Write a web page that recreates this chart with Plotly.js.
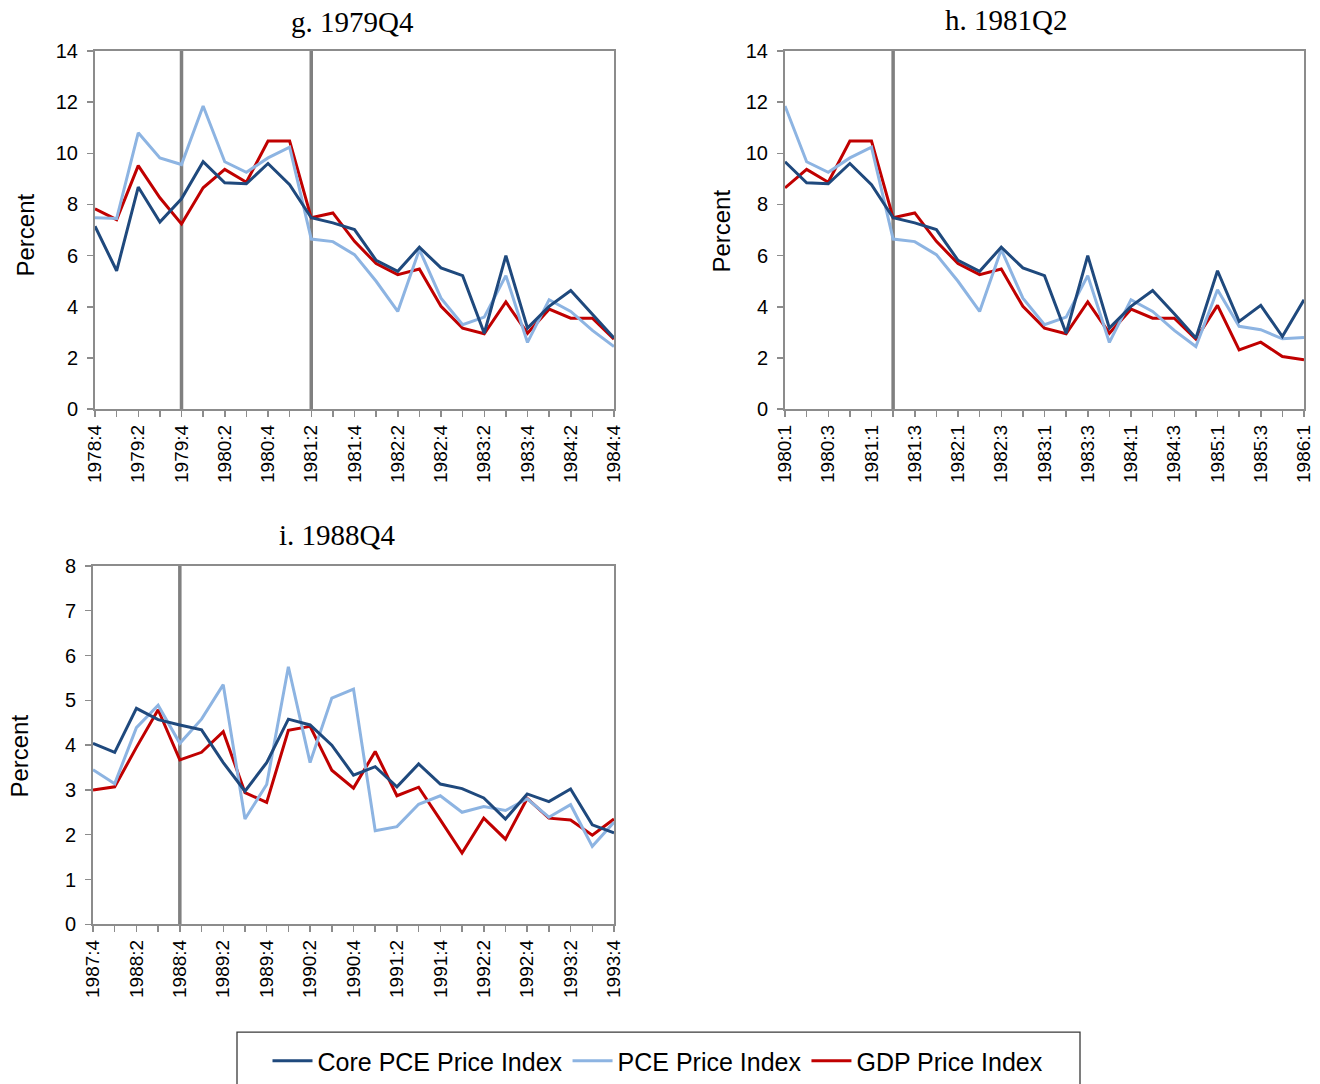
<!DOCTYPE html>
<html>
<head>
<meta charset="utf-8">
<script src="https://cdn.plot.ly/plotly-3.0.1.min.js"></script>
<style>html,body{margin:0;padding:0;background:#fff;}#chart{width:1320px;height:1084px;}</style>
</head>
<body>
<div id="chart"></div>
<script>
// ---------- Panel g: 1979Q4 ----------
const quartersG = ['1978:4','1979:1','1979:2','1979:3','1979:4','1980:1','1980:2','1980:3','1980:4','1981:1','1981:2','1981:3','1981:4','1982:1','1982:2','1982:3','1982:4','1983:1','1983:2','1983:3','1983:4','1984:1','1984:2','1984:3','1984:4'];
const coreG = [7.15,5.41,8.68,7.31,8.22,9.67,8.85,8.81,9.60,8.77,7.48,7.28,7.02,5.82,5.39,6.33,5.52,5.22,2.97,6.00,3.17,4.02,4.64,3.73,2.78];
const pceG  = [7.48,7.45,10.80,9.82,9.56,11.85,9.67,9.26,9.82,10.24,6.65,6.55,6.04,5.00,3.82,6.24,4.34,3.30,3.60,5.22,2.61,4.28,3.82,3.08,2.45];
const gdpG  = [7.83,7.41,9.52,8.26,7.24,8.65,9.37,8.87,10.48,10.48,7.48,7.67,6.56,5.69,5.26,5.48,4.02,3.17,2.95,4.19,2.97,3.91,3.56,3.56,2.74];
const markersG = ['1979:4','1981:2'];

// ---------- Panel h: 1981Q2 ----------
const quartersH = ['1980:1','1980:2','1980:3','1980:4','1981:1','1981:2','1981:3','1981:4','1982:1','1982:2','1982:3','1982:4','1983:1','1983:2','1983:3','1983:4','1984:1','1984:2','1984:3','1984:4','1985:1','1985:2','1985:3','1985:4','1986:1'];
const coreH = [9.67,8.85,8.81,9.60,8.77,7.48,7.28,7.02,5.82,5.39,6.33,5.52,5.22,2.97,6.00,3.17,4.02,4.64,3.73,2.78,5.41,3.43,4.06,2.84,4.28];
const pceH  = [11.85,9.67,9.26,9.82,10.24,6.65,6.55,6.04,5.00,3.82,6.24,4.34,3.30,3.60,5.22,2.61,4.28,3.82,3.08,2.45,4.67,3.24,3.11,2.75,2.80];
const gdpH  = [8.65,9.37,8.87,10.48,10.48,7.48,7.67,6.56,5.69,5.26,5.48,4.02,3.17,2.95,4.19,2.97,3.91,3.56,3.56,2.74,4.06,2.32,2.62,2.06,1.93];
const markersH = ['1981:2'];

// ---------- Panel i: 1988Q4 ----------
const quartersI = ['1987:4','1988:1','1988:2','1988:3','1988:4','1989:1','1989:2','1989:3','1989:4','1990:1','1990:2','1990:3','1990:4','1991:1','1991:2','1991:3','1991:4','1992:1','1992:2','1992:3','1992:4','1993:1','1993:2','1993:3','1993:4'];
const coreI = [4.04,3.84,4.82,4.57,4.45,4.34,3.61,2.97,3.61,4.58,4.45,4.00,3.33,3.52,3.07,3.58,3.13,3.03,2.82,2.35,2.91,2.74,3.02,2.22,2.04];
const pceI  = [3.45,3.14,4.39,4.89,4.04,4.58,5.35,2.35,3.12,5.75,3.61,5.05,5.25,2.09,2.18,2.68,2.87,2.50,2.63,2.54,2.80,2.39,2.67,1.74,2.28];
const gdpI  = [3.00,3.07,3.95,4.79,3.67,3.84,4.30,2.94,2.72,4.33,4.42,3.44,3.04,3.86,2.87,3.06,2.33,1.59,2.37,1.90,2.81,2.37,2.33,1.99,2.35];
const markersI = ['1988:4'];

const seriesNames = ['Core PCE Price Index','PCE Price Index','GDP Price Index'];
const panelTitles = ['g. 1979Q4','h. 1981Q2','i. 1988Q4'];
const yTitle = 'Percent';

// ---------- styling ----------
const W = 1320, H = 1084;
const colors = {core:'#1F497D', pce:'#8DB4E2', gdp:'#C00000'};
const axisGray = '#8c8c8c';
const px = v => v / W;
const py = v => 1 - v / H;

const panels = [
  {q:quartersG, core:coreG, pce:pceG, gdp:gdpG, marks:markersG, ymax:14, dtick:2,
   xd:[px(95), px(614)], yd:[py(410), py(51)], title:[353, 22], ytl:[26, 235]},
  {q:quartersH, core:coreH, pce:pceH, gdp:gdpH, marks:markersH, ymax:14, dtick:2,
   xd:[px(785), px(1304)], yd:[py(410), py(51)], title:[1006, 20], ytl:[722, 232]},
  {q:quartersI, core:coreI, pce:pceI, gdp:gdpI, marks:markersI, ymax:8, dtick:1,
   xd:[px(93), px(614)], yd:[py(926), py(567)], title:[337, 536], ytl:[20, 758]}
];

const traces = [];
const layout = {
  width: W, height: H,
  margin: {l:0, r:0, t:0, b:0},
  paper_bgcolor: '#fff', plot_bgcolor: '#fff',
  showlegend: true,
  legend: {
    orientation: 'h', x: px(658), xanchor: 'center', y: py(1040), yanchor: 'top',
    traceorder: 'reversed', itemwidth: 40,
    font: {family: 'Liberation Sans, Arial, sans-serif', size: 25, color: '#000'},
    borderwidth: 0, bgcolor: 'rgba(0,0,0,0)'
  },
  annotations: [], shapes: []
};

panels.forEach((p, k) => {
  const xa = k === 0 ? 'x' : 'x' + (k + 1);
  const ya = k === 0 ? 'y' : 'y' + (k + 1);
  const xKey = k === 0 ? 'xaxis' : 'xaxis' + (k + 1);
  const yKey = k === 0 ? 'yaxis' : 'yaxis' + (k + 1);
  const order = [['gdp', 2], ['pce', 1], ['core', 0]];
  order.forEach(([key, ni]) => {
    traces.push({
      type: 'scatter', mode: 'lines', x: p.q, y: p[key], xaxis: xa, yaxis: ya,
      name: seriesNames[ni], legendgroup: key, showlegend: k === 0,
      line: {color: colors[key], width: 3}, hoverinfo: 'skip'
    });
  });
  layout[xKey] = {
    domain: p.xd, anchor: ya, type: 'category', range: [0, p.q.length - 1],
    tickmode: 'array', tickvals: p.q, ticktext: p.q.map((s, i) => i % 2 === 0 ? s : ''),
    tickangle: -90, ticks: 'outside', ticklen: 6, tickwidth: 1.5, tickcolor: axisGray,
    showline: true, linecolor: axisGray, linewidth: 2, mirror: true,
    showgrid: false, zeroline: false, automargin: false, fixedrange: true,
    tickfont: {family: 'Liberation Sans, Arial, sans-serif', size: 19, color: '#000'}
  };
  layout[yKey] = {
    domain: p.yd, anchor: xa, range: [0, p.ymax], dtick: p.dtick, tick0: 0,
    ticks: 'outside', ticklen: 6, tickwidth: 1.5, tickcolor: axisGray,
    showline: true, linecolor: axisGray, linewidth: 2, mirror: true,
    showgrid: false, zeroline: false, automargin: false, fixedrange: true,
    ticklabelstandoff: 5,
    tickfont: {family: 'Liberation Sans, Arial, sans-serif', size: 20, color: '#000'}
  };
  p.marks.forEach(m => {
    layout.shapes.push({
      type: 'line', xref: xa, yref: ya + ' domain',
      x0: p.q.indexOf(m), x1: p.q.indexOf(m), y0: 0, y1: 1,
      line: {color: '#808080', width: 3.5}, layer: 'below'
    });
  });
  layout.annotations.push({
    text: panelTitles[k], xref: 'paper', yref: 'paper',
    x: px(p.title[0]), y: py(p.title[1]), xanchor: 'center', yanchor: 'middle',
    showarrow: false, font: {family: 'Liberation Serif, DejaVu Serif, serif', size: 29, color: '#000'}
  });
  layout.annotations.push({
    text: yTitle, xref: 'paper', yref: 'paper', textangle: -90,
    x: px(p.ytl[0]), y: py(p.ytl[1]), xanchor: 'center', yanchor: 'middle',
    showarrow: false, font: {family: 'Liberation Sans, Arial, sans-serif', size: 24, color: '#000'}
  });
});

// legend frame
layout.shapes.push({
  type: 'rect', xref: 'paper', yref: 'paper',
  x0: px(237), x1: px(1080), y0: py(1095), y1: py(1034),
  line: {color: '#3a3a3a', width: 1.3}, fillcolor: 'rgba(0,0,0,0)'
});

Plotly.newPlot('chart', traces, layout, {displayModeBar: false, staticPlot: true});
</script>
</body>
</html>
